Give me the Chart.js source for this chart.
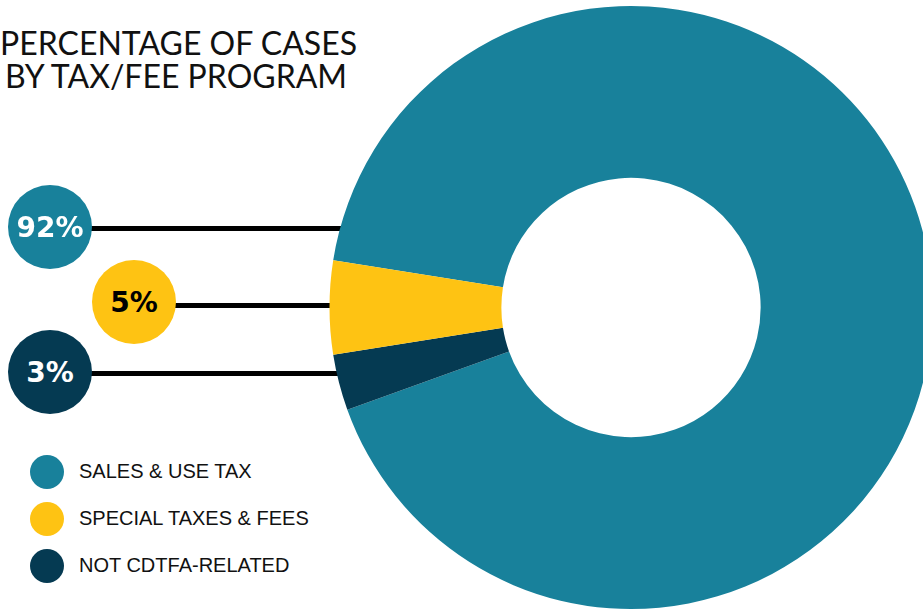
<!DOCTYPE html>
<html>
<head>
<meta charset="utf-8">
<script src="https://cdn.jsdelivr.net/npm/chart.js@4/dist/chart.umd.min.js"></script>
<style>
  html, body { margin: 0; padding: 0; background: #fff; }
  body { width: 923px; height: 611px; overflow: hidden; position: relative; }
  #title {
    position: absolute; left: 0; top: 26px; width: 352px;
    font-family: Lato, sans-serif; font-size: 32px; line-height: 33px;
    text-align: center; color: #111; white-space: nowrap;
  }
  .leader { position: absolute; height: 5px; background: #000; z-index: 0; }
  #wrap { position: absolute; left: 0; top: 0; width: 940px; height: 611px; z-index: 1; }
  .badge {
    position: absolute; width: 84px; height: 84px; border-radius: 50%; z-index: 2;
    display: flex; align-items: center; justify-content: center;
    font-family: "DejaVu Sans", sans-serif; font-weight: bold; font-size: 28px;
  }
  #legend { position: absolute; left: 30px; top: 448px; }
  .item { display: flex; align-items: center; height: 47px; }
  .dot { width: 34px; height: 34px; border-radius: 50%; margin-right: 15px; }
  .item span { font-family: "Liberation Sans", Arial, sans-serif; font-size: 20px; color: #111; }
</style>
</head>
<body>
<div id="title">PERCENTAGE OF CASES<br>BY TAX/FEE PROGRAM</div>
<div class="leader" style="left:90px; top:226px; width:320px"></div>
<div class="leader" style="left:170px; top:303px; width:240px"></div>
<div class="leader" style="left:90px; top:371px; width:320px"></div>
<div id="wrap"><canvas id="chart" width="940" height="611"></canvas></div>
<div id="badges"></div>
<div id="legend"></div>
<script>
// data
const categories = ["SALES & USE TAX", "SPECIAL TAXES & FEES", "NOT CDTFA-RELATED"];
const shares = [92, 5, 3];
const badgeText = ["92%", "5%", "3%"];

// styles
const colors = ["#18819b", "#fec313", "#053a52"];
const textColors = ["#fff", "#000", "#fff"];
const badgePos = [[8, 185], [92, 260], [8, 330]];
// navy sits below yellow, so the ring goes teal -> navy -> yellow clockwise
const drawOrder = [0, 2, 1];

// badges
const badges = document.getElementById("badges");
badgeText.forEach((t, i) => {
    const b = document.createElement("div");
    b.className = "badge";
    b.style.left = badgePos[i][0] + "px";
    b.style.top = badgePos[i][1] + "px";
    b.style.background = colors[i];
    b.style.color = textColors[i];
    b.textContent = t;
    badges.appendChild(b);
});

// legend
const legend = document.getElementById("legend");
categories.forEach((c, i) => {
    legend.innerHTML += `<div class="item"><div class="dot" style="background:${colors[i]}"></div><span>${c}</span></div>`;
});

// doughnut
const ctx = document.getElementById("chart").getContext("2d");
new Chart(ctx, {
    type: "doughnut",
    data: {
        labels: drawOrder.map(i => categories[i]),
        datasets: [{
            data: drawOrder.map(i => shares[i]),
            backgroundColor: drawOrder.map(i => colors[i]),
            borderWidth: 0,
            hoverBorderWidth: 0,
            hoverOffset: 0,
            spacing: 0
        }]
    },
    options: {
        responsive: false,
        animation: false,
        cutout: "43%",
        rotation: 279,
        layout: { padding: { left: 329.5, right: 7.5, top: 6, bottom: 2 } },
        plugins: {
            legend: { display: false },
            tooltip: { enabled: false }
        }
    }
});
</script>
</body>
</html>
